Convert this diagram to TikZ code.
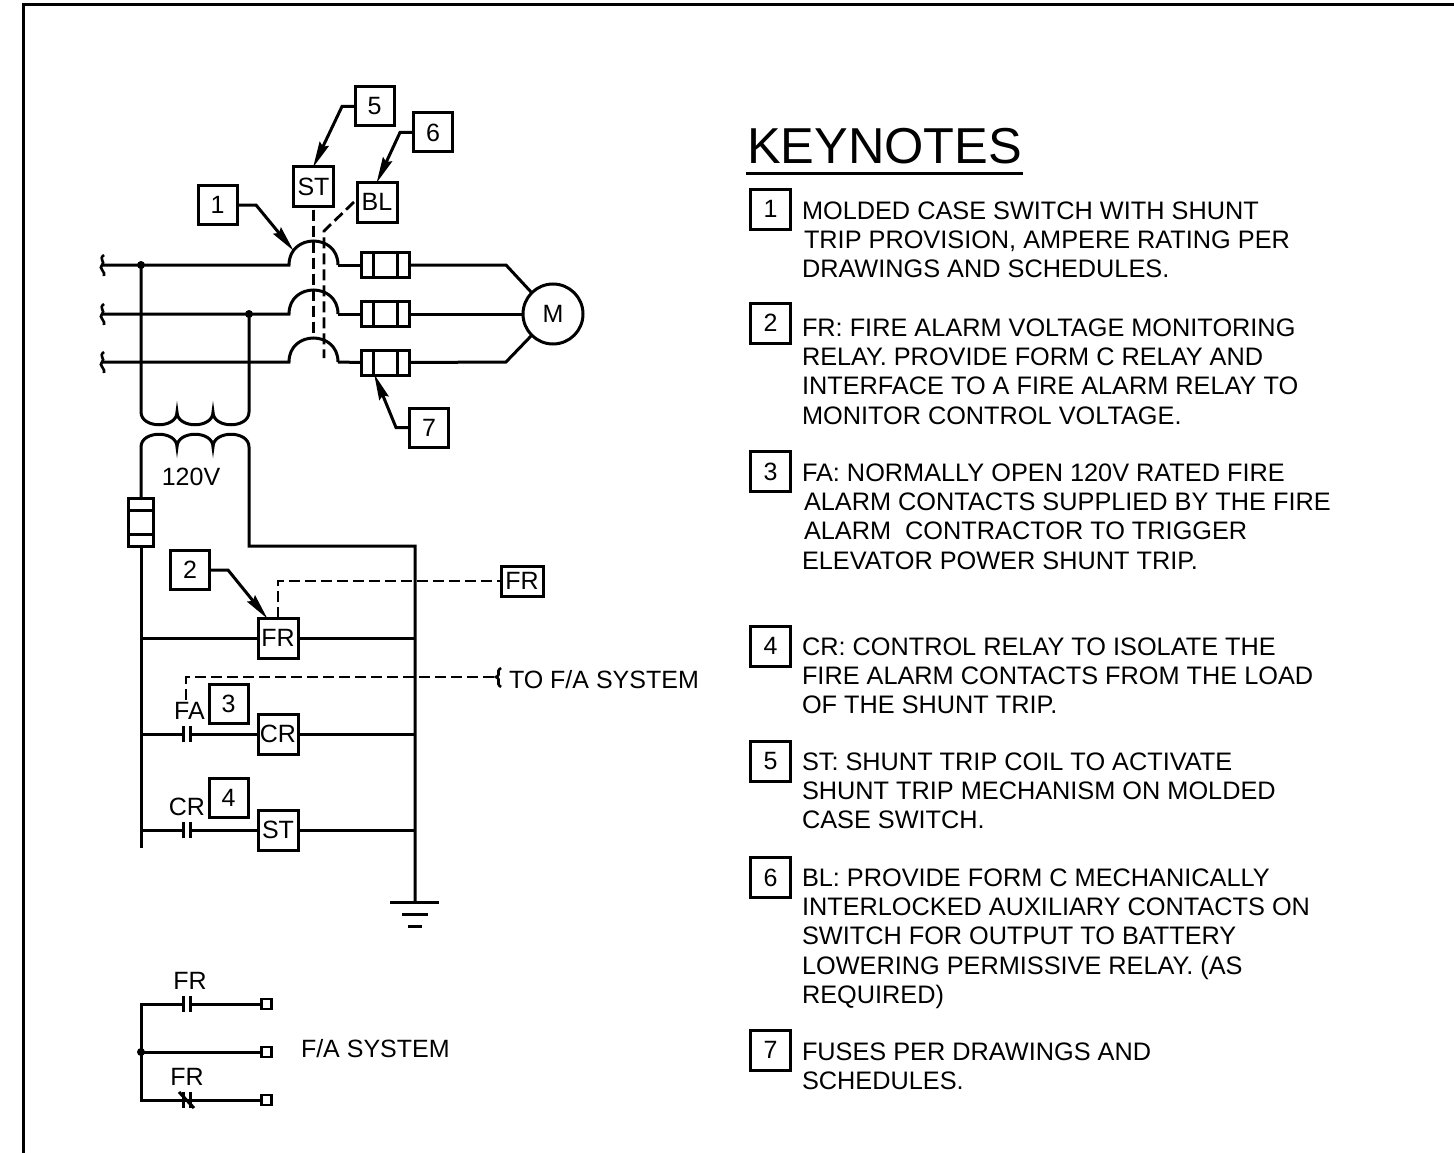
\documentclass[tikz,border=0pt]{standalone}
\usepackage{fontspec}
\setmainfont{Liberation Sans}
\usetikzlibrary{arrows.meta,calc}
\newcommand{\fs}[1]{\fontsize{#1}{29.3}\selectfont}
\tikzset{
  wire/.style={line width=3pt,line join=miter},
  leader/.style={line width=3pt,-{Stealth[length=26pt,width=10pt,inset=3pt]},shorten >=-1pt},
  dashline/.style={line width=2.8pt,dash pattern=on 11pt off 5pt},
  tagbox/.style={draw,line width=3pt,minimum size=39pt,inner sep=0pt,outer sep=0pt,font=\fs{25}},
  devbox/.style={draw,line width=3pt,minimum size=40pt,inner sep=0pt,outer sep=0pt,font=\fs{25}},
  fusebox/.style={draw,line width=3pt,minimum width=48pt,minimum height=25pt,inner sep=0pt,outer sep=0pt},
  term/.style={draw,line width=2.8pt,minimum size=10pt,inner sep=0pt,outer sep=0pt},
  dotnode/.style={circle,fill=black,minimum size=8pt,inner sep=0pt,outer sep=0pt},
  label/.style={inner sep=0pt,outer sep=0pt,font=\fs{25}},
  note/.style={inner sep=0pt,outer sep=0pt,anchor=north west,align=left,font=\fs{25.3}},
  notenum/.style={tagbox,minimum size=40pt}
}
\begin{document}
\begin{tikzpicture}[x=1pt,y=-1pt]
\useasboundingbox (0,0) rectangle (1454,1153);
% frame
\draw[line width=3pt] (23,1153) -- (23,5) -- (1454,5);

% boxes in the power part
\node[tagbox] (k5) at (374.5,106.5) {5};
\node[tagbox] (k6) at (433,132.5) {6};
\node[tagbox] (k1) at (217.5,205) {1};
\node[tagbox] (k7) at (429,427.5) {7};
\node[devbox] (st1) at (313.5,186.5) {ST};
\node[devbox] (bl) at (377,202) {BL};
\node[fusebox] (f1) at (385,265) {};
\node[fusebox] (f2) at (385,314) {};
\node[fusebox] (f3) at (385,362.5) {};
\foreach \f in {f1,f2,f3}{
  \draw[wire] ([xshift=12pt]\f.north west) -- ([xshift=12pt]\f.south west);
  \draw[wire] ([xshift=-12pt]\f.north east) -- ([xshift=-12pt]\f.south east);
}
\node[draw,circle,line width=3pt,minimum size=60pt,inner sep=0pt,outer sep=0pt,font=\fs{25}] (m) at (553,314) {M};

\node[dotnode] (d1) at (141,265) {};
\node[dotnode] (d2) at (249,314) {};

% incoming lines with break marks
\foreach \y/\n in {265/a,314/b,362/c}{
  \coordinate (in\n) at (102,\y);
  \coordinate (swl\n) at (289,\y);
  \coordinate (swr\n) at (338,\y);
  \draw[line width=2.6pt] (104,\y-10) .. controls (98,\y-6) and (106,\y-3) .. (in\n) .. controls (98,\y+3) and (106,\y+7) .. (104,\y+11);
  \draw[wire] (in\n) -- (swl\n) .. controls (289,\y-32) and (338,\y-32) .. (swr\n);
}
\draw[wire] (swra) -- (f1.west);
\draw[wire] (swrb) -- (f2.west);
\draw[wire] (swrc) -- (f3.west);
\draw[wire] (f1.east) -- (506,265) -- (m.135);
\draw[wire] (f2.east) -- (m.west);
\draw[wire] (f3.east) -- (506,362) -- (m.225);

% leaders
\coordinate (sw1) at (293,250);
\draw[leader] (k1.east) -- (256,205) -- (sw1);
\draw[leader] (k5.west) -- (342,106.5) -- (st1.north);
\draw[leader] (k6.west) -- (400,132.5) -- (bl.north);
\draw[leader] (k7.west) -- (396,427.5) -- (f3.230);

% mechanical links
\coordinate (stend) at (313.5,337);
\coordinate (blbend) at (324,231);
\coordinate (blend) at (324,358);
\draw[dashline] (st1.south) ++(0,3) -- (stend);
\draw[dashline] (bl.west) ++(-3,0) -- (blbend) -- (blend);

% transformer
\coordinate (pa) at (141,412);
\coordinate (pb) at (177,412);
\coordinate (pc) at (213,412);
\coordinate (pd) at (249,412);
\draw[wire] (d1.center) -- (pa) .. controls (141,429) and (177,429) .. (pb) .. controls (177,429) and (213,429) .. (pc) .. controls (213,429) and (249,429) .. (pd) -- (d2.center);
\coordinate (sa) at (141,447);
\coordinate (sb) at (177,447);
\coordinate (sc) at (213,447);
\coordinate (sd) at (249,447);
\node[fusebox,minimum width=25pt,minimum height=48pt] (f4) at (141,522) {};
\draw[wire] ([yshift=-12pt]f4.north west) -- ([yshift=-12pt]f4.north east);
\draw[wire] ([yshift=12pt]f4.south west) -- ([yshift=12pt]f4.south east);
\coordinate (ne) at (249,546);
\coordinate (nf) at (415,546);
\coordinate (lbot) at (141,848);
\coordinate (gnd) at (415,902);
\draw[wire] (f4.north) -- (sa) .. controls (141,430) and (177,430) .. (sb) .. controls (177,430) and (213,430) .. (sc) .. controls (213,430) and (249,430) .. (sd) -- (ne) -- (nf) -- (gnd);
\draw[wire] (f4.south) -- (lbot);
\node[label,anchor=base] (v120) at (191,485) {120V};

% ground
\draw[wire] (390,902) -- (gnd) -- (439,902);
\draw[wire] (402,914) -- (428,914);
\draw[wire] (408,926) -- (422,926);

% control rungs
\node[tagbox] (k2) at (190,570) {2};
\node[tagbox] (k3) at (228.5,704) {3};
\node[tagbox] (k4) at (228.5,798) {4};
\node[devbox] (fr) at (278,638) {FR};
\node[devbox] (cr) at (278,734) {CR};
\node[devbox] (st2) at (278,830) {ST};
\node[draw,line width=3pt,minimum width=42pt,minimum height=30pt,inner sep=0pt,outer sep=0pt,font=\fs{25}] (fr2) at (522,581) {FR};

\draw[leader] (k2.east) -- (228,570) -- (fr.119);
\coordinate (frb) at (278,581);
\draw[dashline] (fr.north) -- (frb) -- (fr2.west);

\coordinate (fa1) at (186,700);
\coordinate (fa2) at (186,677);
\coordinate (fa3) at (496,677);
\draw[dashline] (fa1) -- (fa2) -- (fa3);
\draw[line width=2.6pt] (501,668) .. controls (495,672) and (502,674) .. (fa3) .. controls (502,680) and (495,683) .. (501,687);
\node[label,anchor=base west] (tofa) at (509,688) {TO F/A SYSTEM};

\foreach \y/\n in {638/x,734/y,830/z}{
  \coordinate (bl\n) at (141,\y);
  \coordinate (br\n) at (415,\y);
}
\draw[wire] (blx) -- (fr.west);
\draw[wire] (fr.east) -- (brx);
\draw[wire] (cr.east) -- (bry);
\draw[wire] (st2.east) -- (brz);

\coordinate (c1a) at (183,734);
\coordinate (c1b) at (190,734);
\coordinate (c2a) at (183,830);
\coordinate (c2b) at (190,830);
\draw[wire] (bly) -- (c1a) (c1b) -- (cr.west);
\draw[wire] (blz) -- (c2a) (c2b) -- (st2.west);
\foreach \c in {c1a,c1b,c2a,c2b}{\draw[wire] ($(\c)+(0,-8)$) -- ($(\c)+(0,8)$);}
\node[label,anchor=base] (lfa) at (189.5,719) {FA};
\node[label,anchor=base] (lcr) at (187,815) {CR};

% F/A system contacts
\node[term] (t1) at (266.5,1004) {};
\node[term] (t2) at (266.5,1052) {};
\node[term] (t3) at (266.5,1100) {};
\node[dotnode] (d3) at (141,1052) {};
\coordinate (u1) at (141,1004);
\coordinate (u3) at (141,1100);
\coordinate (c3a) at (183,1004);
\coordinate (c3b) at (190,1004);
\coordinate (c4a) at (183,1100);
\coordinate (c4b) at (190,1100);
\draw[wire] (c3a) -- (u1) -- (u3) -- (c4a) -- (c4b) -- (t3.west);
\draw[wire] (c3b) -- (t1.west);
\draw[wire] (d3.center) -- (t2.west);
\foreach \c in {c3a,c3b,c4a,c4b}{\draw[wire] ($(\c)+(0,-8)$) -- ($(\c)+(0,8)$);}
\draw[wire] ($(c4a)+(-4,-8)$) -- ($(c4b)+(4,8)$);
\node[label,anchor=base] (lfr1) at (190,989) {FR};
\node[label,anchor=base] (lfr2) at (187,1085) {FR};
\node[label,anchor=base west] (fasys) at (301,1057) {F/A SYSTEM};

% keynotes
\node[inner sep=0pt,outer sep=0pt,anchor=base west,font=\fontsize{50.5}{50}\selectfont] (title) at (747,164) {KEYNOTES};
\coordinate (ula) at (746,174);
\coordinate (ulb) at (1023,174);
\draw[line width=3pt] (ula) -- (ulb);

\node[notenum] (n1) at (770.5,209) {1};
\node[notenum] (n2) at (770.5,323) {2};
\node[notenum] (n3) at (770.5,471.5) {3};
\node[notenum] (n4) at (770.5,646) {4};
\node[notenum] (n5) at (770.5,761) {5};
\node[notenum] (n6) at (770.5,877.5) {6};
\node[notenum] (n7) at (770.5,1050) {7};

\node[note] (t1n) at (802,201.5) {MOLDED CASE SWITCH WITH SHUNT\\\hspace*{2pt}TRIP PROVISION, AMPERE RATING PER\\DRAWINGS AND SCHEDULES.};
\node[note] (t2n) at (802,318.5) {FR: FIRE ALARM VOLTAGE MONITORING\\RELAY. PROVIDE FORM C RELAY AND\\INTERFACE TO A FIRE ALARM RELAY TO\\MONITOR CONTROL VOLTAGE.};
\node[note] (t3n) at (802,463.5) {FA: NORMALLY OPEN 120V RATED FIRE\\\hspace*{2pt}ALARM CONTACTS SUPPLIED BY THE FIRE\\\hspace*{2pt}ALARM\ \ CONTRACTOR TO TRIGGER\\ELEVATOR POWER SHUNT TRIP.};
\node[note] (t4n) at (802,637.5) {CR: CONTROL RELAY TO ISOLATE THE\\FIRE ALARM CONTACTS FROM THE LOAD\\OF THE SHUNT TRIP.};
\node[note] (t5n) at (802,752.5) {ST: SHUNT TRIP COIL TO ACTIVATE\\SHUNT TRIP MECHANISM ON MOLDED\\CASE SWITCH.};
\node[note] (t6n) at (802,868.5) {BL: PROVIDE FORM C MECHANICALLY\\INTERLOCKED AUXILIARY CONTACTS ON\\SWITCH FOR OUTPUT TO BATTERY\\LOWERING PERMISSIVE RELAY. (AS\\REQUIRED)};
\node[note] (t7n) at (802,1042.5) {FUSES PER DRAWINGS AND\\SCHEDULES.};
\end{tikzpicture}
\end{document}
